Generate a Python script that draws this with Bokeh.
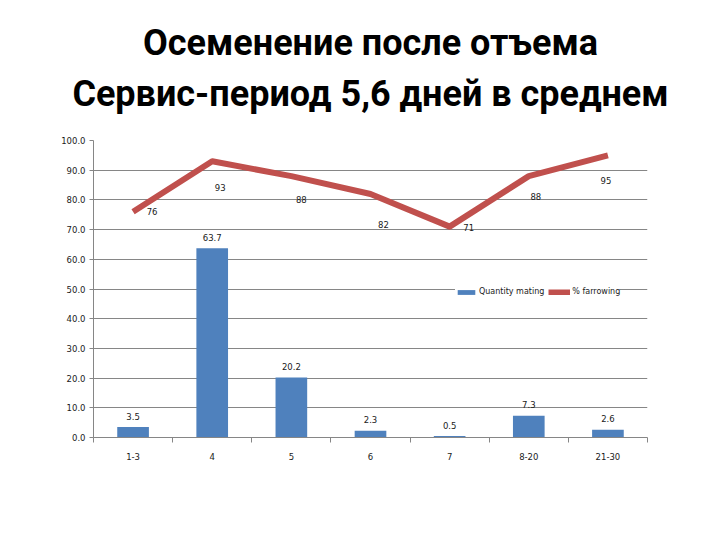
from bokeh.plotting import figure
from bokeh.models import (ColumnDataSource, FixedTicker, NumeralTickFormatter, Legend,
                          LegendItem, Title, Range1d)
from bokeh.embed import file_html
from bokeh.resources import INLINE
from bokeh.core.properties import value

# ---- data ----
categories = ["1-3", "4", "5", "6", "7", "8-20", "21-30"]
quantity_mating = [3.5, 63.7, 20.2, 2.3, 0.5, 7.3, 2.6]
farrowing = [76, 93, 88, 82, 71, 88, 95]
y_ticks = [0, 10, 20, 30, 40, 50, 60, 70, 80, 90, 100]
title_lines = ["Осеменение после отъема", "Сервис-период 5,6 дней в среднем"]
legend_labels = ["Quantity mating", "% farrowing"]

# ---- styles ----
BAR_COLOR = "#4F81BD"
LINE_COLOR = "#C0504D"
GRID_COLOR = "#868686"
TEXT_COLOR = "#1a1a1a"
line_label_dx = [19, 8, 10, 13, 19, 7, -2]
line_label_dy = [0, 26, 23, 31, 1, 20, 25]

xs = list(range(len(categories)))
src = ColumnDataSource(dict(
    x=xs,
    bar=quantity_mating,
    bar_txt=[f"{v:.1f}" for v in quantity_mating],
    line=farrowing,
    line_txt=[str(v) for v in farrowing],
    dx=line_label_dx,
    dy=line_label_dy,
))

p = figure(width=704, height=524, output_backend="svg", toolbar_location=None,
           x_range=Range1d(-0.5, len(categories) - 0.5), y_range=Range1d(0, 100),
           min_border_left=93, min_border_right=57, min_border_top=140, min_border_bottom=87)
p.outline_line_color = None
p.background_fill_color = "white"
p.border_fill_color = "white"

# grid
p.xgrid.grid_line_color = None
p.ygrid.grid_line_color = GRID_COLOR
p.ygrid.grid_line_width = 1

# y axis
p.yaxis.ticker = FixedTicker(ticks=y_ticks)
p.yaxis.formatter = NumeralTickFormatter(format="0.0")
p.yaxis.axis_line_color = GRID_COLOR
p.yaxis.major_tick_line_color = GRID_COLOR
p.yaxis.major_tick_out = 4
p.yaxis.major_tick_in = 0
p.yaxis.minor_tick_line_color = None
p.yaxis.major_label_standoff = 4
p.yaxis.major_label_text_font = "DejaVu Sans"
p.yaxis.major_label_text_font_size = "8.5px"
p.yaxis.major_label_text_color = TEXT_COLOR

# x axis (numeric positions from categories, ticks between categories)
p.xaxis.ticker = FixedTicker(ticks=xs, minor_ticks=[i - 0.5 for i in range(len(categories) + 1)])
p.xaxis.major_label_overrides = {i: c for i, c in zip(xs, categories)}
p.xaxis.axis_line_color = GRID_COLOR
p.xaxis.major_tick_line_color = None
p.xaxis.minor_tick_line_color = GRID_COLOR
p.xaxis.minor_tick_out = 5
p.xaxis.minor_tick_in = 0
p.xaxis.major_label_standoff = 9
p.xaxis.major_label_text_font = "DejaVu Sans"
p.xaxis.major_label_text_font_size = "8.5px"
p.xaxis.major_label_text_color = TEXT_COLOR

# bars
bars = p.vbar(x="x", top="bar", width=0.4, bottom=0, source=src,
              fill_color=BAR_COLOR, line_color=None)
p.text(x="x", y="bar", text="bar_txt", source=src, text_align="center",
       text_baseline="middle", y_offset=-11, text_font=value("DejaVu Sans"),
       text_font_size="8.5px", text_color=TEXT_COLOR)

# line
ln = p.line(x="x", y="line", source=src, line_color=LINE_COLOR, line_width=6,
            line_join="round")
p.text(x="x", y="line", text="line_txt", source=src, text_align="center",
       text_baseline="middle", x_offset="dx", y_offset="dy",
       text_font=value("DejaVu Sans"), text_font_size="8.5px", text_color=TEXT_COLOR)

# legend
legend = Legend(items=[LegendItem(label=legend_labels[0], renderers=[bars]),
                       LegendItem(label=legend_labels[1], renderers=[ln])],
                orientation="horizontal", location=(362, 141))
legend.label_text_font = "DejaVu Sans"
legend.label_text_font_size = "8px"
legend.label_text_color = TEXT_COLOR
legend.glyph_width = 22
legend.glyph_height = 6
legend.padding = 2
legend.spacing = 4
legend.label_standoff = 2
legend.margin = 0
legend.border_line_color = None
legend.background_fill_color = "white"
legend.background_fill_alpha = 1
p.add_layout(legend, "center")

# title lines (first added sits nearest the plot)
for txt, so in zip(reversed(title_lines), [52, -38]):
    p.add_layout(Title(text=txt, align="center", text_font="Roboto",
                       text_font_style="bold", text_font_size="36px",
                       text_color="#000000", standoff=so), "above")

open("out.html", "w").write(file_html(p, INLINE))
